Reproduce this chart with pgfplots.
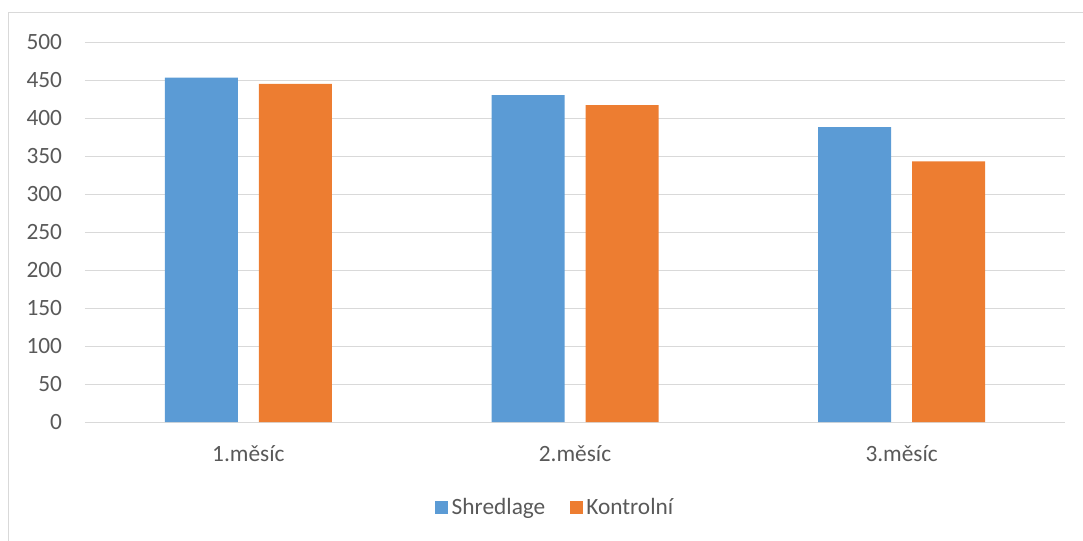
\documentclass[border=0pt]{standalone}
\usepackage{pgfplots}
\pgfplotsset{compat=1.18}
\usepackage{fontspec}
\setmainfont{Carlito}
\definecolor{sblue}{RGB}{91,155,213}
\definecolor{korange}{RGB}{237,125,49}
\definecolor{gridc}{RGB}{217,217,217}
\definecolor{txt}{RGB}{89,89,89}
\begin{document}
\begin{tikzpicture}[x=1pt,y=1pt]
\useasboundingbox (0,0) rectangle (812.25,405);
\draw[gridc, line width=0.75pt] (6.4,-2) -- (6.4,395.6) -- (815,395.6);
\begin{axis}[
  at={(63.75pt,88.5pt)}, anchor=south west,
  scale only axis, width=735pt, height=285pt,
  xmin=-0.5, xmax=2.5, ymin=0, ymax=500,
  ytick={0,50,...,500},
  xtick={0,1,2},
  xticklabels={1.měsíc,2.měsíc,3.měsíc},
  axis line style={draw=none},
  major tick length=0pt,
  ymajorgrids, grid style={gridc, line width=0.75pt},
  ybar, bar width=54.75pt,
  /pgf/number format/assume math mode=true,
  tick label style={font=\fontsize{17.5}{20}\selectfont, text=txt},
  yticklabel style={anchor=east, inner sep=0pt, xshift=-17pt},
  xticklabel style={anchor=base, inner sep=0pt, yshift=-29.25pt},
  legend style={at={(0.4806,-0.2237)}, anchor=center, draw=none, fill=none,
    font=\fontsize{17.5}{20}\selectfont, text=txt,
    legend columns=2,
    /tikz/every even column/.append style={column sep=16pt},
    nodes={inner sep=2.5pt}},
  legend image code/.code={\fill[#1] (0pt,-4.875pt) rectangle (9.75pt,4.875pt);},
]
\addplot[fill=sblue, draw=none, bar shift=-35.25pt] coordinates {(0,453) (1,430) (2,388)};
\addplot[fill=korange, draw=none, bar shift=35.25pt] coordinates {(0,445) (1,417) (2,343)};
\legend{Shredlage,Kontrolní}
\end{axis}
\end{tikzpicture}
\end{document}
